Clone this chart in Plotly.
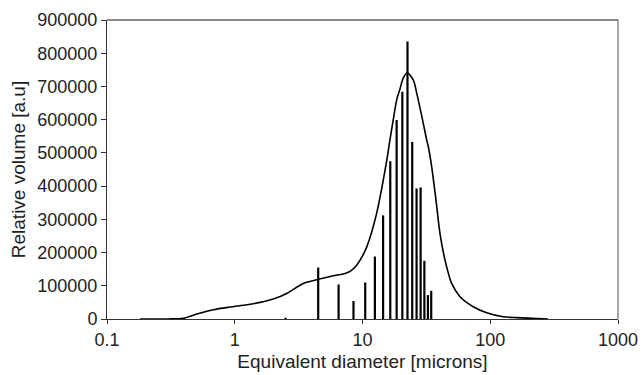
import plotly.graph_objects as go

# Size-class histogram (spikes)
bar_diam = [2.5, 4.5, 6.5, 8.5, 10.5, 12.5, 14.5, 16.5, 18.5, 20.5, 22.5,
            24.5, 26.5, 28.5, 30.5, 32.5, 34.5]
bar_vol = [4000, 155000, 104000, 54000, 110000, 188000, 312000, 475000, 599000,
           684000, 835000, 533000, 393000, 396000, 175000, 72000, 85000]

# Smooth distribution curve
curve_diam = [0.181, 0.30, 0.396, 0.504, 0.68, 0.918, 1.25, 1.58, 2.0, 2.55, 3.44,
              4.49, 5.5, 6.5, 7.3, 8.1, 9.0, 10.0, 10.8, 12.9, 15.5, 16.4, 17.4,
              18.5, 19.7, 20.8, 22.4, 25.0, 26.6, 29.9, 31.8, 32.7, 34.8, 37.6,
              40.4, 44.2, 49.9, 58.0, 73.6, 93.7, 126, 161, 283]
curve_vol = [0, 200, 2000, 15000, 28000, 36000, 43000, 50000, 60000, 77000, 107000,
             119000, 127000, 133000, 137000, 145000, 162000, 190000, 217000, 318000,
             478000, 539000, 599000, 659000, 694000, 724000, 741000, 719000, 679000,
             589000, 539000, 520000, 458000, 358000, 258000, 178000, 107000, 67000,
             37000, 19000, 7000, 4000, 0]

x_ticks = [0.1, 1, 10, 100, 1000]
x_ticktext = ["0.1", "1", "10", "100", "1000"]
y_ticks = [0, 100000, 200000, 300000, 400000, 500000, 600000, 700000, 800000, 900000]

# spikes as vertical segments
sx, sy = [], []
for d, v in zip(bar_diam, bar_vol):
    sx += [d, d, None]
    sy += [0, v, None]

fig = go.Figure()
fig.add_trace(go.Scatter(x=sx, y=sy, mode="lines",
                         line=dict(color="black", width=2.2), hoverinfo="skip"))
fig.add_trace(go.Scatter(x=curve_diam, y=curve_vol, mode="lines",
                         line=dict(color="black", width=1.6, shape="spline", smoothing=0.8)))

font = "Liberation Sans, Arial, Helvetica, sans-serif"
fig.update_layout(
    width=644, height=375,
    margin=dict(l=107, r=26, t=20, b=56),
    paper_bgcolor="white", plot_bgcolor="white",
    showlegend=False,
    font=dict(family=font, size=18, color="#222"),
    xaxis=dict(type="log", range=[-1, 3], tickvals=x_ticks, ticktext=x_ticktext,
               showgrid=False, zeroline=False, showline=True, linecolor="#333",
               linewidth=1, ticks="outside", ticklen=4, tickcolor="#333",
               automargin=False,
               title=dict(text="Equivalent diameter [microns]", font=dict(size=19), standoff=6)),
    yaxis=dict(range=[0, 900000], tickvals=y_ticks, tickformat="d",
               showgrid=False, zeroline=False, showline=True, linecolor="#333",
               linewidth=1, ticks="outside", ticklen=5, tickcolor="#333",
               automargin=False,
               title=dict(text="Relative volume [a.u]", font=dict(size=19), standoff=6)),
    shapes=[
        dict(type="line", xref="paper", yref="paper", x0=0, x1=1, y0=1, y1=1,
             line=dict(color="#888", width=2)),
        dict(type="line", xref="paper", yref="paper", x0=1, x1=1, y0=0, y1=1,
             line=dict(color="#555", width=1)),
    ],
)
fig.write_html("out.html")
